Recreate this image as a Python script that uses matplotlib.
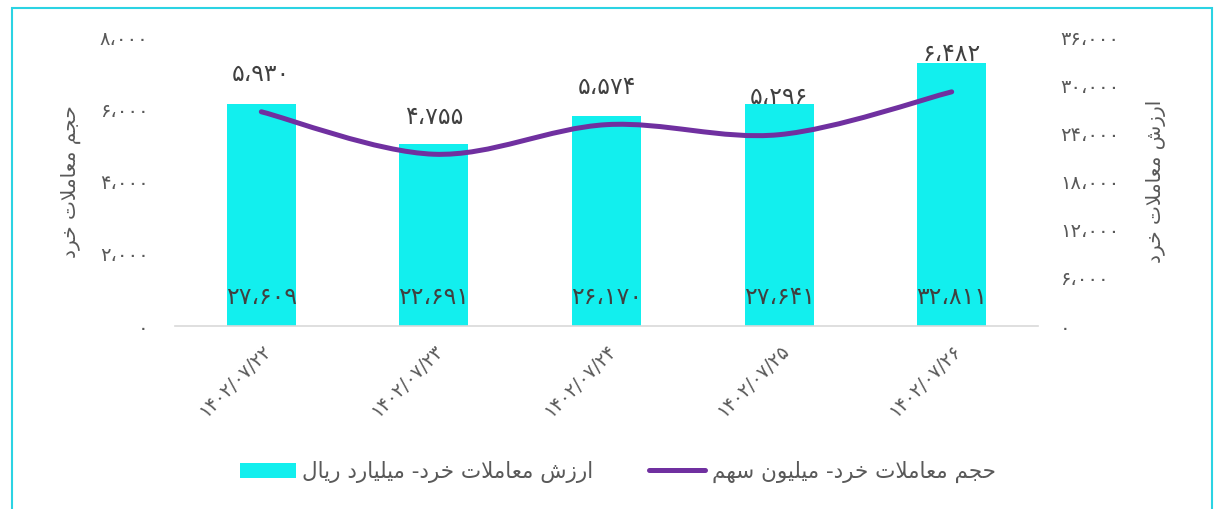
import matplotlib
matplotlib.use("Agg")
import matplotlib.pyplot as plt
from matplotlib.path import Path
from matplotlib.patches import PathPatch, Rectangle
from matplotlib.lines import Line2D

# ---- data ---------------------------------------------------------------
dates = ["۱۴۰۲/۰۷/۲۲", "۱۴۰۲/۰۷/۲۳", "۱۴۰۲/۰۷/۲۴", "۱۴۰۲/۰۷/۲۵", "۱۴۰۲/۰۷/۲۶"]
bar_vals = [27609, 22691, 26170, 27641, 32811]     # right axis
line_vals = [5930, 4755, 5574, 5296, 6482]         # left axis
left_ticks = [0, 2000, 4000, 6000, 8000]
right_ticks = [0, 6000, 12000, 18000, 24000, 30000, 36000]

BAR_NAME = "ارزش معاملات خرد- میلیارد ریال"
LINE_NAME = "حجم معاملات خرد- میلیون سهم"
LEFT_TITLE = "حجم معاملات خرد"
RIGHT_TITLE = "ارزش معاملات خرد"

CYAN, PURPLE, GREY, DARK = "#12EFEE", "#7030A0", "#595959", "#404040"

# ---- minimal Persian shaping (matplotlib has no RTL/joining support) ------
DUAL = {  # iso, fin, ini, med
    "ت": "\uFE95\uFE96\uFE97\uFE98", "ج": "\uFE9D\uFE9E\uFE9F\uFEA0",
    "ح": "\uFEA1\uFEA2\uFEA3\uFEA4", "خ": "\uFEA5\uFEA6\uFEA7\uFEA8",
    "س": "\uFEB1\uFEB2\uFEB3\uFEB4", "ش": "\uFEB5\uFEB6\uFEB7\uFEB8",
    "ع": "\uFEC9\uFECA\uFECB\uFECC", "ل": "\uFEDD\uFEDE\uFEDF\uFEE0",
    "م": "\uFEE1\uFEE2\uFEE3\uFEE4", "ن": "\uFEE5\uFEE6\uFEE7\uFEE8",
    "ه": "\uFEE9\uFEEA\uFEEB\uFEEC", "ی": "\uFBFC\uFBFD\uFEF3\uFEF4",
}
RIGHT = {"ا": "\uFE8D\uFE8E", "د": "\uFEA9\uFEAA", "ر": "\uFEAD\uFEAE",
         "ز": "\uFEAF\uFEB0", "و": "\uFEED\uFEEE"}


def fa(s):
    out, i = [], 0
    while i < len(s):
        c = s[i]
        prev = s[i - 1] if i > 0 else ""
        nxt = s[i + 1] if i + 1 < len(s) else ""
        jp = prev in DUAL
        if c == "ل" and nxt == "ا":
            out.append("\uFEFC" if jp else "\uFEFB")
            i += 2
            continue
        if c in DUAL:
            jn = nxt in DUAL or nxt in RIGHT
            out.append(DUAL[c][(1 if jp else 0) if not jn else (3 if jp else 2)])
        elif c in RIGHT:
            out.append(RIGHT[c][1 if jp else 0])
        else:
            out.append(c)
        i += 1
    return "".join(out)[::-1]


def num(v):
    return f"{v:,}".translate(str.maketrans("0123456789,", "۰۱۲۳۴۵۶۷۸۹،"))


plt.rcParams["font.family"] = ["DejaVu Sans"]
fig = plt.figure(figsize=(12.18, 5.09), dpi=100)

ax = fig.add_axes([0.1437, 0.3595, 0.7085, 0.5678])
axl = ax.twinx()                 # line on the left-hand scale
x = list(range(len(dates)))

# bars on the right-hand scale
ax.bar(x, bar_vals, width=0.4, color=CYAN, zorder=2)
ax.set_ylim(0, 36000)
ax.set_xlim(-0.5, len(dates) - 0.5)
ax.yaxis.tick_right()
ax.set_yticks(right_ticks)
ax.set_yticklabels([num(v) for v in right_ticks])
ax.tick_params(axis="y", length=0, pad=16, colors=GREY, labelsize=14)
for xi, v in zip(x, bar_vals):
    ax.annotate(num(v), (xi, 0), xytext=(0, 21), textcoords="offset points",
                ha="center", va="center", fontsize=17, color=DARK, zorder=5)

ax.set_xticks(x)
ax.set_xticklabels(dates, rotation=45, ha="right", va="top", rotation_mode="anchor")
ax.tick_params(axis="x", length=0, pad=11, colors=GREY, labelsize=13.5)
for s in ("top", "left", "right"):
    ax.spines[s].set_visible(False)
ax.spines["bottom"].set_color("#D9D9D9")
ax.spines["bottom"].set_linewidth(1.2)

axl.yaxis.tick_left()
axl.set_ylim(0, 8000)
axl.set_yticks(left_ticks)
axl.set_yticklabels([num(v) for v in left_ticks])
axl.tick_params(axis="y", length=0, pad=19, colors=GREY, labelsize=14)
for s in axl.spines.values():
    s.set_visible(False)

# Excel-like smoothed line through the data points
pts = list(zip(x, line_vals))
verts, codes = [pts[0]], [Path.MOVETO]
for i in range(len(pts) - 1):
    p0 = pts[i - 1] if i > 0 else pts[i]
    p1, p2 = pts[i], pts[i + 1]
    p3 = pts[i + 2] if i + 2 < len(pts) else p2
    c1 = (p1[0] + (p2[0] - p0[0]) / 6, p1[1] + (p2[1] - p0[1]) / 6)
    c2 = (p2[0] - (p3[0] - p1[0]) / 6, p2[1] - (p3[1] - p1[1]) / 6)
    verts += [c1, c2, p2]
    codes += [Path.CURVE4] * 3
axl.add_patch(PathPatch(Path(verts, codes), fc="none", ec=PURPLE, lw=3.6,
                        capstyle="round", joinstyle="round", zorder=3))
for xi, v in zip(x, line_vals):
    axl.annotate(num(v), (xi, v), xytext=(0, 27), textcoords="offset points",
                 ha="center", va="center", fontsize=17, color=DARK)

# axis titles
fig.text(0.058, 0.643, fa(LEFT_TITLE), rotation=90, ha="center", va="center",
         fontsize=14.5, color=GREY)
fig.text(0.949, 0.643, fa(RIGHT_TITLE), rotation=90, ha="center", va="center",
         fontsize=14.5, color=GREY)

# legend
handles = [Rectangle((0, 0), 1, 1, fc=CYAN, ec="none"),
           Line2D([0], [0], color=PURPLE, lw=3.6, solid_capstyle="round")]
fig.legend(handles, [fa(BAR_NAME), fa(LINE_NAME)], loc="center",
           bbox_to_anchor=(0.507, 0.073), ncol=2, frameon=False, fontsize=15.5,
           labelcolor=GREY, handlelength=2.6, columnspacing=2.6, handletextpad=0.3)

# outer chart border
fig.add_artist(Rectangle((12 / 1218, -0.02), 1200 / 1218, 1.02 - 8 / 509,
                         transform=fig.transFigure, fill=False, ec="#2BD3E3", lw=1.5))

fig.savefig("out.png", dpi=100, facecolor="white")
